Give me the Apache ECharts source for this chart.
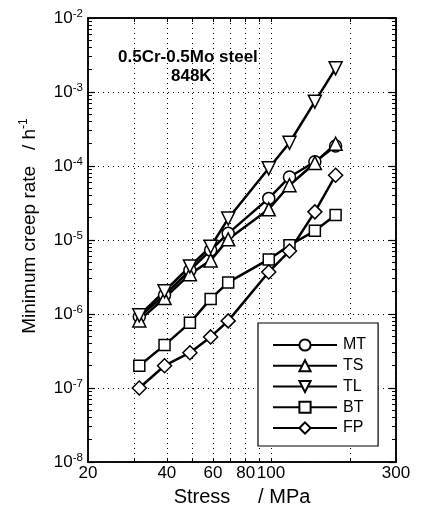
<!DOCTYPE html>
<html>
<head>
<meta charset="utf-8">
<script src="https://cdn.jsdelivr.net/npm/echarts@6/dist/echarts.min.js"></script>
<style>html,body{margin:0;padding:0;background:#fff}#c{width:421px;height:518px}</style>
</head>
<body>
<div id="c"></div>
<script>
// ---- data ----
var stress = [31.4, 39.2, 49, 58.8, 68.6, 98, 117.6, 147, 176.4];
var MT = [9.2e-7, 1.8e-6, 3.9e-6, 7.3e-6, 1.23e-5, 3.65e-5, 7.1e-5, 1.14e-4, 1.86e-4];
var TS = [8.2e-7, 1.64e-6, 3.45e-6, 5.3e-6, 1.02e-5, 2.6e-5, 5.5e-5, 1.1e-4, 2.0e-4];
var TL = [9.6e-7, 2.03e-6, 4.4e-6, 8.1e-6, 1.95e-5, 9.3e-5, 2.06e-4, 7.4e-4, 2.09e-3];
var BT = [2.0e-7, 3.8e-7, 7.6e-7, 1.6e-6, 2.67e-6, 5.46e-6, 8.5e-6, 1.33e-5, 2.17e-5];
var FP = [1.0e-7, 2.0e-7, 3.0e-7, 4.9e-7, 8.07e-7, 3.7e-6, 7.1e-6, 2.4e-5, 7.5e-5];
var seriesNames = ['MT', 'TS', 'TL', 'BT', 'FP'];
var xLabels = [20, 40, 60, 80, 100, 300];
var xTicks = [20, 30, 40, 50, 60, 70, 80, 90, 100, 200, 300];
var yDecades = [1e-8, 1e-7, 1e-6, 1e-5, 1e-4, 1e-3, 1e-2];
var yMinorMult = [2, 3, 4, 5, 6, 7, 8, 9];

var yMinor = [];
yDecades.slice(0, -1).forEach(function (d) { yMinorMult.forEach(function (m) { yMinor.push(m * d); }); });

var FONT = 'Liberation Sans, Arial, sans-serif';
var valsBy = { MT: MT, TS: TS, TL: TL, BT: BT, FP: FP };
var symBy = { MT: 'circle', TS: 'triangle', TL: 'triangle', BT: 'rect', FP: 'diamond' };
var sizeBy = { MT: 12, TS: 13, TL: 13, BT: 11, FP: 14 };
var rotBy = { MT: 0, TS: 0, TL: 180, BT: 0, FP: 0 };

function pairs(v) { return stress.map(function (s, i) { return [s, v[i]]; }); }

var gridRect = { left: 88, right: 25, top: 18, bottom: 56 };
var axisLineStyle = { color: '#000', width: 1.5 };
var dotted = { show: true, lineStyle: { color: '#000', width: 1, type: [1, 4] } };

var chart = echarts.init(document.getElementById('c'), null, { renderer: 'canvas' });
chart.setOption({
  backgroundColor: '#fff',
  animation: false,
  textStyle: { fontFamily: FONT, color: '#000' },
  grid: [
    Object.assign({ show: true, borderColor: '#000', borderWidth: 1.5, containLabel: false }, gridRect),
    Object.assign({ show: false }, gridRect)
  ],
  xAxis: [
    {
      type: 'log', logBase: 10, min: 20, max: 300, gridIndex: 0, position: 'bottom',
      axisLine: { show: true, lineStyle: axisLineStyle },
      axisTick: { show: true, inside: true, length: 4, customValues: xTicks, lineStyle: { color: '#000' } },
      axisLabel: { customValues: xLabels, color: '#000', fontSize: 17, fontFamily: FONT, margin: 3 },
      splitLine: dotted,
      name: 'Stress     / MPa', nameLocation: 'middle', nameGap: 21,
      nameTextStyle: { fontSize: 20, color: '#000', fontFamily: FONT, lineHeight: 22 }
    },
    {
      type: 'log', logBase: 10, min: 20, max: 300, gridIndex: 0, position: 'top',
      axisLine: { show: true, lineStyle: axisLineStyle },
      axisTick: { show: true, inside: true, length: 4, customValues: xTicks, lineStyle: { color: '#000' } },
      axisLabel: { show: false }, splitLine: { show: false }
    },
    { type: 'log', min: 20, max: 300, gridIndex: 1, show: false },
    { type: 'log', min: 20, max: 300, gridIndex: 1, position: 'top', show: false }
  ],
  yAxis: [
    {
      type: 'log', logBase: 10, min: 1e-8, max: 1e-2, gridIndex: 0, position: 'left',
      axisLine: { show: true, lineStyle: axisLineStyle },
      axisTick: { show: true, inside: true, length: 7, customValues: yDecades, lineStyle: { color: '#000', width: 1.2 } },
      axisLabel: {
        customValues: yDecades, margin: 5, color: '#000',
        formatter: function (v) { return '{b|10}{s|' + Math.round(Math.log10(v)) + '}'; },
        rich: {
          b: { fontSize: 17, fontFamily: FONT, color: '#000', lineHeight: 21 },
          s: { fontSize: 11.5, fontFamily: FONT, color: '#000', lineHeight: 12, verticalAlign: 'top' }
        }
      },
      splitLine: dotted,
      name: '{a|Minimum creep rate   / h}{s|-1}', nameLocation: 'middle', nameGap: 46, nameRotate: 90,
      nameTextStyle: {
        padding: [0, 0, 0, 28],
        rich: {
          a: { fontSize: 19, fontFamily: FONT, color: '#000', lineHeight: 24 },
          s: { fontSize: 12, fontFamily: FONT, color: '#000', lineHeight: 13, verticalAlign: 'top' }
        }
      }
    },
    {
      type: 'log', logBase: 10, min: 1e-8, max: 1e-2, gridIndex: 0, position: 'right',
      axisLine: { show: true, lineStyle: axisLineStyle },
      axisTick: { show: true, inside: true, length: 7, customValues: yDecades, lineStyle: { color: '#000', width: 1.2 } },
      axisLabel: { show: false }, splitLine: { show: false }
    },
    {
      type: 'log', logBase: 10, min: 1e-8, max: 1e-2, gridIndex: 1, position: 'left',
      axisLine: { show: false },
      axisTick: { show: true, inside: true, length: 4, customValues: yMinor, lineStyle: { color: '#000' } },
      axisLabel: { show: false }, splitLine: { show: false }
    },
    {
      type: 'log', logBase: 10, min: 1e-8, max: 1e-2, gridIndex: 1, position: 'right',
      axisLine: { show: false },
      axisTick: { show: true, inside: true, length: 4, customValues: yMinor, lineStyle: { color: '#000' } },
      axisLabel: { show: false }, splitLine: { show: false }
    }
  ],
  legend: {
    orient: 'vertical', left: 258, top: 323,
    data: seriesNames,
    itemWidth: 64, itemHeight: 14, itemGap: 4.75,
    padding: [14, 12, 10, 14],
    borderColor: '#000', borderWidth: 1.2, backgroundColor: '#fff',
    textStyle: { fontSize: 16, lineHeight: 16, fontFamily: FONT, color: '#000', padding: [0, 0, 0, 1] }
  },
  graphic: [
    { type: 'text', left: 118, top: 49, style: { text: '0.5Cr-0.5Mo steel', fontSize: 17, fontWeight: 'bold', fontFamily: FONT, fill: '#000' } },
    { type: 'text', left: 171, top: 68, style: { text: '848K', fontSize: 17, fontWeight: 'bold', fontFamily: FONT, fill: '#000' } }
  ],
  series: seriesNames.map(function (n) {
    return {
      name: n, type: 'line', xAxisIndex: 0, yAxisIndex: 0,
      data: pairs(valsBy[n]),
      symbol: symBy[n], symbolSize: sizeBy[n], symbolRotate: rotBy[n], showAllSymbol: true,
      lineStyle: { color: '#000', width: 2.5 },
      itemStyle: { color: '#fff', borderColor: '#000', borderWidth: 1.5 },
      z: 3
    };
  })
});
</script>
</body>
</html>
